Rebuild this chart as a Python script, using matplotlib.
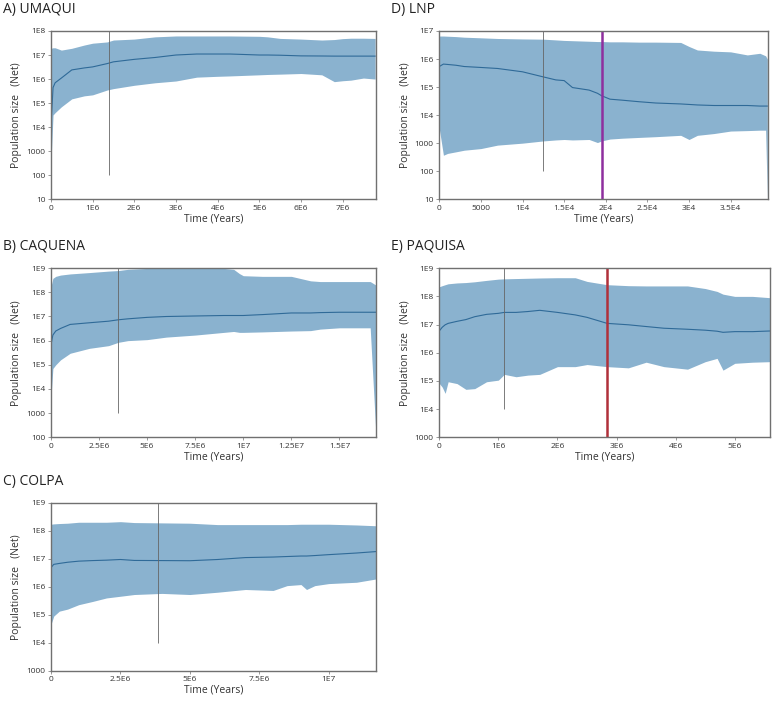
import matplotlib
matplotlib.use("Agg")
import matplotlib.pyplot as plt
from matplotlib.ticker import FixedLocator, FuncFormatter

FONT = ["Open Sans", "DejaVu Sans"]
plt.rcParams["font.family"] = FONT

FILL = "#8ab2cf"
LINE = "#2f6a98"
SPINE = "#707070"

# A) UMAQUI  (time in years, Ne)
umaqui_t = [0, 0.05e6, 0.1e6, 0.25e6, 0.5e6, 0.8e6, 1.0e6, 1.35e6, 1.5e6, 2.0e6, 2.5e6, 3.0e6,
            3.5e6, 4.0e6, 4.3e6, 5.0e6, 5.2e6, 5.5e6, 6.0e6, 6.5e6, 6.8e6, 7.0e6, 7.2e6, 7.5e6, 7.78e6]
umaqui_up = [1.9e7, 2.0e7, 2.0e7, 1.6e7, 1.9e7, 2.6e7, 3.1e7, 3.5e7, 4.2e7, 4.6e7, 5.7e7, 6.2e7,
             6.2e7, 6.2e7, 6.2e7, 6.0e7, 5.7e7, 4.9e7, 4.6e7, 4.2e7, 4.4e7, 4.8e7, 5.0e7, 5.0e7, 4.9e7]
umaqui_med = [1.0e4, 4.4e5, 7.0e5, 1.1e6, 2.4e6, 2.9e6, 3.2e6, 4.4e6, 5.2e6, 6.6e6, 7.9e6, 1.0e7,
              1.1e7, 1.1e7, 1.1e7, 1.0e7, 1.0e7, 9.8e6, 9.2e6, 9.1e6, 9.0e6, 9.0e6, 9.0e6, 9.0e6, 9.0e6]
umaqui_lo = [3.0e2, 3.2e4, 4.0e4, 7.0e4, 1.5e5, 2.0e5, 2.2e5, 3.5e5, 4.0e5, 5.5e5, 7.0e5, 8.3e5,
             1.2e6, 1.3e6, 1.35e6, 1.5e6, 1.55e6, 1.6e6, 1.7e6, 1.5e6, 7.8e5, 8.5e5, 9.0e5, 1.1e6, 1.0e6]

# B) CAQUENA
caquena_t = [0, 0.1e6, 0.25e6, 0.5e6, 1.0e6, 2.0e6, 3.0e6, 3.5e6, 4.0e6, 5.0e6, 6.0e6, 7.5e6, 9.0e6,
             9.5e6, 9.8e6, 10.0e6, 11.0e6, 12.5e6, 13.5e6, 14.0e6, 15.0e6, 16.6e6, 16.9e6]
caquena_up = [1.7e8, 3.8e8, 4.6e8, 5.2e8, 5.8e8, 6.6e8, 7.6e8, 8.0e8, 9.0e8, 9.8e8, 9.8e8, 9.8e8, 9.8e8,
              9.0e8, 6.0e8, 4.9e8, 4.6e8, 4.6e8, 3.0e8, 2.8e8, 2.8e8, 2.8e8, 2.0e8]
caquena_med = [6.6e5, 1.7e6, 2.5e6, 3.2e6, 4.7e6, 5.5e6, 6.4e6, 7.3e6, 8.0e6, 9.2e6, 1.0e7, 1.05e7, 1.1e7,
               1.1e7, 1.1e7, 1.1e7, 1.2e7, 1.4e7, 1.4e7, 1.45e7, 1.5e7, 1.5e7, 1.5e7]
caquena_lo = [4.0e3, 7.0e4, 1.0e5, 1.6e5, 3.0e5, 4.8e5, 6.2e5, 8.5e5, 1.0e6, 1.1e6, 1.4e6, 1.7e6, 2.2e6,
              2.4e6, 2.2e6, 2.2e6, 2.3e6, 2.5e6, 2.6e6, 3.0e6, 3.4e6, 3.4e6, 1.2e2]

# C) COLPA
colpa_t = [0, 0.1e6, 0.3e6, 0.6e6, 1.0e6, 1.5e6, 2.0e6, 2.5e6, 3.0e6, 4.0e6, 5.0e6, 6.0e6, 7.0e6,
           8.0e6, 8.5e6, 9.0e6, 9.2e6, 9.5e6, 10.0e6, 11.0e6, 11.7e6]
colpa_up = [1.7e8, 1.75e8, 1.8e8, 1.85e8, 2.0e8, 2.0e8, 2.0e8, 2.1e8, 1.95e8, 1.9e8, 1.85e8, 1.65e8, 1.65e8,
            1.65e8, 1.65e8, 1.7e8, 1.7e8, 1.7e8, 1.7e8, 1.6e8, 1.5e8]
colpa_med = [4.8e6, 6.3e6, 6.8e6, 7.5e6, 8.2e6, 8.6e6, 8.9e6, 9.4e6, 8.7e6, 8.6e6, 8.5e6, 9.4e6, 1.1e7,
             1.15e7, 1.2e7, 1.25e7, 1.25e7, 1.3e7, 1.4e7, 1.6e7, 1.8e7]
colpa_lo = [4.5e4, 9.0e4, 1.35e5, 1.6e5, 2.3e5, 3.0e5, 4.0e5, 4.6e5, 5.3e5, 5.8e5, 5.3e5, 6.4e5, 8.0e5,
            7.4e5, 1.1e6, 1.2e6, 8.0e5, 1.1e6, 1.3e6, 1.45e6, 1.9e6]

# D) LNP
lnp_t = [0, 500, 1000, 2000, 3000, 5000, 7000, 10000, 12500, 14000, 15000, 16000, 18000, 19000, 19500,
         20500, 22000, 24000, 26000, 29000, 30000, 31000, 33000, 35000, 37000, 38500, 39200, 39400]
lnp_up = [6.6e6, 6.6e6, 6.5e6, 6.3e6, 6.0e6, 5.7e6, 5.4e6, 5.2e6, 5.1e6, 4.8e6, 4.6e6, 4.5e6, 4.3e6, 4.2e6,
          4.2e6, 4.1e6, 4.1e6, 4.0e6, 4.0e6, 3.9e6, 2.8e6, 2.1e6, 1.9e6, 1.8e6, 1.4e6, 1.6e6, 1.3e6, 1.0e6]
lnp_med = [5.4e5, 6.6e5, 6.4e5, 6.0e5, 5.4e5, 5.0e5, 4.6e5, 3.5e5, 2.3e5, 1.8e5, 1.7e5, 9.6e4, 7.8e4, 6.0e4,
           4.9e4, 3.7e4, 3.4e4, 3.0e4, 2.7e4, 2.5e4, 2.4e4, 2.3e4, 2.2e4, 2.2e4, 2.2e4, 2.1e4, 2.1e4, 2.1e4]
lnp_lo = [3.3e3, 370, 430, 490, 560, 640, 850, 1.0e3, 1.2e3, 1.3e3, 1.35e3, 1.3e3, 1.35e3, 1.05e3, 1.2e3,
          1.4e3, 1.5e3, 1.6e3, 1.7e3, 1.9e3, 1.35e3, 1.9e3, 2.2e3, 2.7e3, 2.8e3, 2.9e3, 2.9e3, 10]

# E) PAQUISA
paquisa_t = [0, 0.05e6, 0.1e6, 0.15e6, 0.3e6, 0.45e6, 0.6e6, 0.8e6, 1.0e6, 1.1e6, 1.3e6, 1.5e6, 1.7e6,
             2.0e6, 2.3e6, 2.5e6, 2.84e6, 3.2e6, 3.5e6, 3.8e6, 4.2e6, 4.5e6, 4.7e6, 4.8e6, 5.0e6, 5.3e6, 5.59e6]
paquisa_up = [2.2e8, 2.4e8, 2.6e8, 2.8e8, 3.0e8, 3.1e8, 3.3e8, 3.7e8, 4.1e8, 4.2e8, 4.3e8, 4.4e8, 4.5e8,
              4.6e8, 4.6e8, 3.4e8, 2.6e8, 2.4e8, 2.35e8, 2.35e8, 2.35e8, 1.9e8, 1.5e8, 1.2e8, 1.0e8, 1.0e8, 9.0e7]
paquisa_med = [5.9e6, 8.0e6, 9.8e6, 1.1e7, 1.3e7, 1.5e7, 1.9e7, 2.3e7, 2.5e7, 2.7e7, 2.7e7, 2.9e7, 3.2e7,
               2.7e7, 2.2e7, 1.8e7, 1.1e7, 9.8e6, 8.5e6, 7.4e6, 6.8e6, 6.3e6, 5.8e6, 5.3e6, 5.6e6, 5.6e6, 5.9e6]
paquisa_lo = [8.1e4, 6.0e4, 3.6e4, 9.3e4, 8.0e4, 5.0e4, 5.3e4, 9.3e4, 1.06e5, 1.7e5, 1.4e5, 1.6e5, 1.7e5,
              3.2e5, 3.2e5, 3.8e5, 3.2e5, 2.9e5, 4.6e5, 3.2e5, 2.6e5, 4.8e5, 6.3e5, 2.4e5, 4.2e5, 4.6e5, 4.8e5]

Y_LABELS = {10: "10", 100: "100", 1000: "1000", 1e4: "1E4", 1e5: "1E5", 1e6: "1E6",
            1e7: "1E7", 1e8: "1E8", 1e9: "1E9"}

# title, data, x ticks, x tick labels, y range, x max, grey line (x, bottom), coloured line, axes box
panels = [
    ("A) UMAQUI", umaqui_t, umaqui_lo, umaqui_med, umaqui_up,
     [0, 1e6, 2e6, 3e6, 4e6, 5e6, 6e6, 7e6], ["0", "1E6", "2E6", "3E6", "4E6", "5E6", "6E6", "7E6"],
     (10, 1e8), 7.8e6, (1.39e6, 100), None,
     [0.066, 0.717, 0.421, 0.239]),
    ("B) CAQUENA", caquena_t, caquena_lo, caquena_med, caquena_up,
     [0, 2.5e6, 5e6, 7.5e6, 1e7, 1.25e7, 1.5e7], ["0", "2.5E6", "5E6", "7.5E6", "1E7", "1.25E7", "1.5E7"],
     (100, 1e9), 16.9e6, (3.5e6, 1000), None,
     [0.066, 0.379, 0.421, 0.240]),
    ("C) COLPA", colpa_t, colpa_lo, colpa_med, colpa_up,
     [0, 2.5e6, 5e6, 7.5e6, 1e7], ["0", "2.5E6", "5E6", "7.5E6", "1E7"],
     (1000, 1e9), 11.7e6, (3.84e6, 1e4), None,
     [0.066, 0.047, 0.421, 0.239]),
    ("D) LNP", lnp_t, lnp_lo, lnp_med, lnp_up,
     [0, 5000, 1e4, 1.5e4, 2e4, 2.5e4, 3e4, 3.5e4], ["0", "5000", "1E4", "1.5E4", "2E4", "2.5E4", "3E4", "3.5E4"],
     (10, 1e7), 39500, (12500, 100), (19500, "#8e2f9e"),
     [0.569, 0.717, 0.426, 0.239]),
    ("E) PAQUISA", paquisa_t, paquisa_lo, paquisa_med, paquisa_up,
     [0, 1e6, 2e6, 3e6, 4e6, 5e6], ["0", "1E6", "2E6", "3E6", "4E6", "5E6"],
     (1000, 1e9), 5.59e6, (1.1e6, 1e4), (2.84e6, "#b0303a"),
     [0.569, 0.379, 0.428, 0.240]),
]

fig = plt.figure(figsize=(7.72, 7.04), dpi=100)

for (title, t, lo, med, up, xt, xtl, ylim, xmax, grey, mark, pos) in panels:
    ax = fig.add_axes(pos)
    ax.fill_between(t, lo, up, color=FILL, linewidth=0)
    ax.plot(t, med, color=LINE, linewidth=0.8)
    ax.set_yscale("log")
    ax.set_ylim(*ylim)
    ax.set_xlim(0, xmax)
    ax.vlines(grey[0], grey[1], ylim[1], color="#666666", linewidth=0.6)
    if mark is not None:
        ax.axvline(mark[0], color=mark[1], linewidth=1.8)

    yt = [v for v in Y_LABELS if ylim[0] <= v <= ylim[1]]
    ax.yaxis.set_major_locator(FixedLocator(yt))
    ax.yaxis.set_minor_locator(FixedLocator([]))
    ax.yaxis.set_major_formatter(FuncFormatter(lambda v, p: Y_LABELS.get(v, "")))
    ax.set_xticks(xt)
    ax.set_xticklabels(xtl)
    ax.tick_params(axis="both", labelsize=6, length=2, width=0.5, color=SPINE, pad=2, labelcolor="#333333")
    for s in ax.spines.values():
        s.set_color(SPINE)
        s.set_linewidth(1.0)

    ax.set_ylabel("Population size   (Net)", fontsize=7.5, labelpad=3, color="#333333")
    ax.set_xlabel("Time (Years)", fontsize=7.5, labelpad=1, color="#333333")
    fig.text(pos[0] - 0.062, pos[1] + pos[3] + 0.02, title, fontsize=10, color="#222222", va="bottom")

fig.savefig("out.png", dpi=100)
